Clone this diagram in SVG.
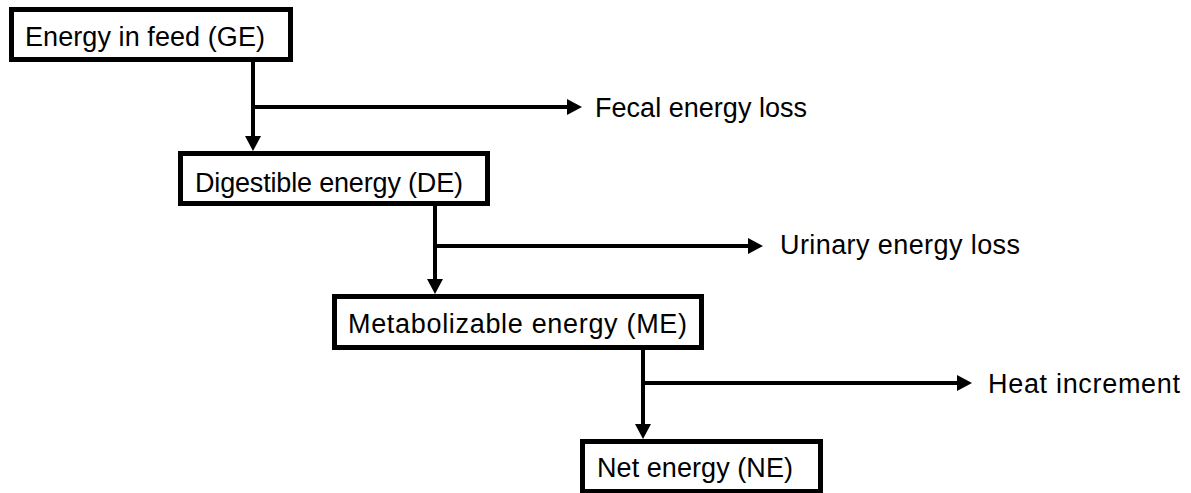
<svg xmlns="http://www.w3.org/2000/svg" width="1191" height="493" viewBox="0 0 1191 493">
  <style>
    .box { fill: #ffffff; stroke: #000000; stroke-width: 5; }
    .lbl { font-family: "Liberation Sans", Arial, sans-serif; font-size: 27px; fill: #000000; }
    .conn { stroke: #000000; stroke-width: 4; fill: none; }
  </style>
  <defs>
    <marker id="arrow" markerUnits="userSpaceOnUse" markerWidth="15" markerHeight="16" refX="2" refY="8" orient="auto">
      <path d="M0,0 L15,8 L0,16 Z" fill="#000000"/>
    </marker>
  </defs>
  <rect width="1191" height="493" fill="#ffffff"/>
  <g id="connectors">
    <line class="conn" x1="253" y1="62" x2="253" y2="138" marker-end="url(#arrow)"/>
    <line class="conn" x1="251" y1="107" x2="569" y2="107" marker-end="url(#arrow)"/>
    <line class="conn" x1="435" y1="206" x2="435" y2="281" marker-end="url(#arrow)"/>
    <line class="conn" x1="433" y1="246" x2="750" y2="246" marker-end="url(#arrow)"/>
    <line class="conn" x1="643" y1="350" x2="643" y2="426" marker-end="url(#arrow)"/>
    <line class="conn" x1="641" y1="383" x2="959" y2="383" marker-end="url(#arrow)"/>
  </g>
  <g id="ge">
    <rect class="box" x="11.5" y="9.5" width="279" height="50"/>
    <text class="lbl" x="25" y="46" textLength="240" lengthAdjust="spacing">Energy in feed (GE)</text>
  </g>
  <g id="de">
    <rect class="box" x="180.5" y="153.5" width="307" height="50"/>
    <text class="lbl" x="195" y="192" textLength="268" lengthAdjust="spacing">Digestible energy (DE)</text>
  </g>
  <g id="me">
    <rect class="box" x="334.5" y="296.5" width="367" height="51"/>
    <text class="lbl" x="348" y="333" textLength="339" lengthAdjust="spacing">Metabolizable energy (ME)</text>
  </g>
  <g id="ne">
    <rect class="box" x="582.5" y="441.5" width="238" height="50"/>
    <text class="lbl" x="597" y="477" textLength="196" lengthAdjust="spacing">Net energy (NE)</text>
  </g>
  <g id="fecal">
    <text class="lbl" x="595" y="117" textLength="212" lengthAdjust="spacing">Fecal energy loss</text>
  </g>
  <g id="urinary">
    <text class="lbl" x="780" y="254" textLength="240" lengthAdjust="spacing">Urinary energy loss</text>
  </g>
  <g id="heat">
    <text class="lbl" x="988" y="393" textLength="192" lengthAdjust="spacing">Heat increment</text>
  </g>
</svg>
